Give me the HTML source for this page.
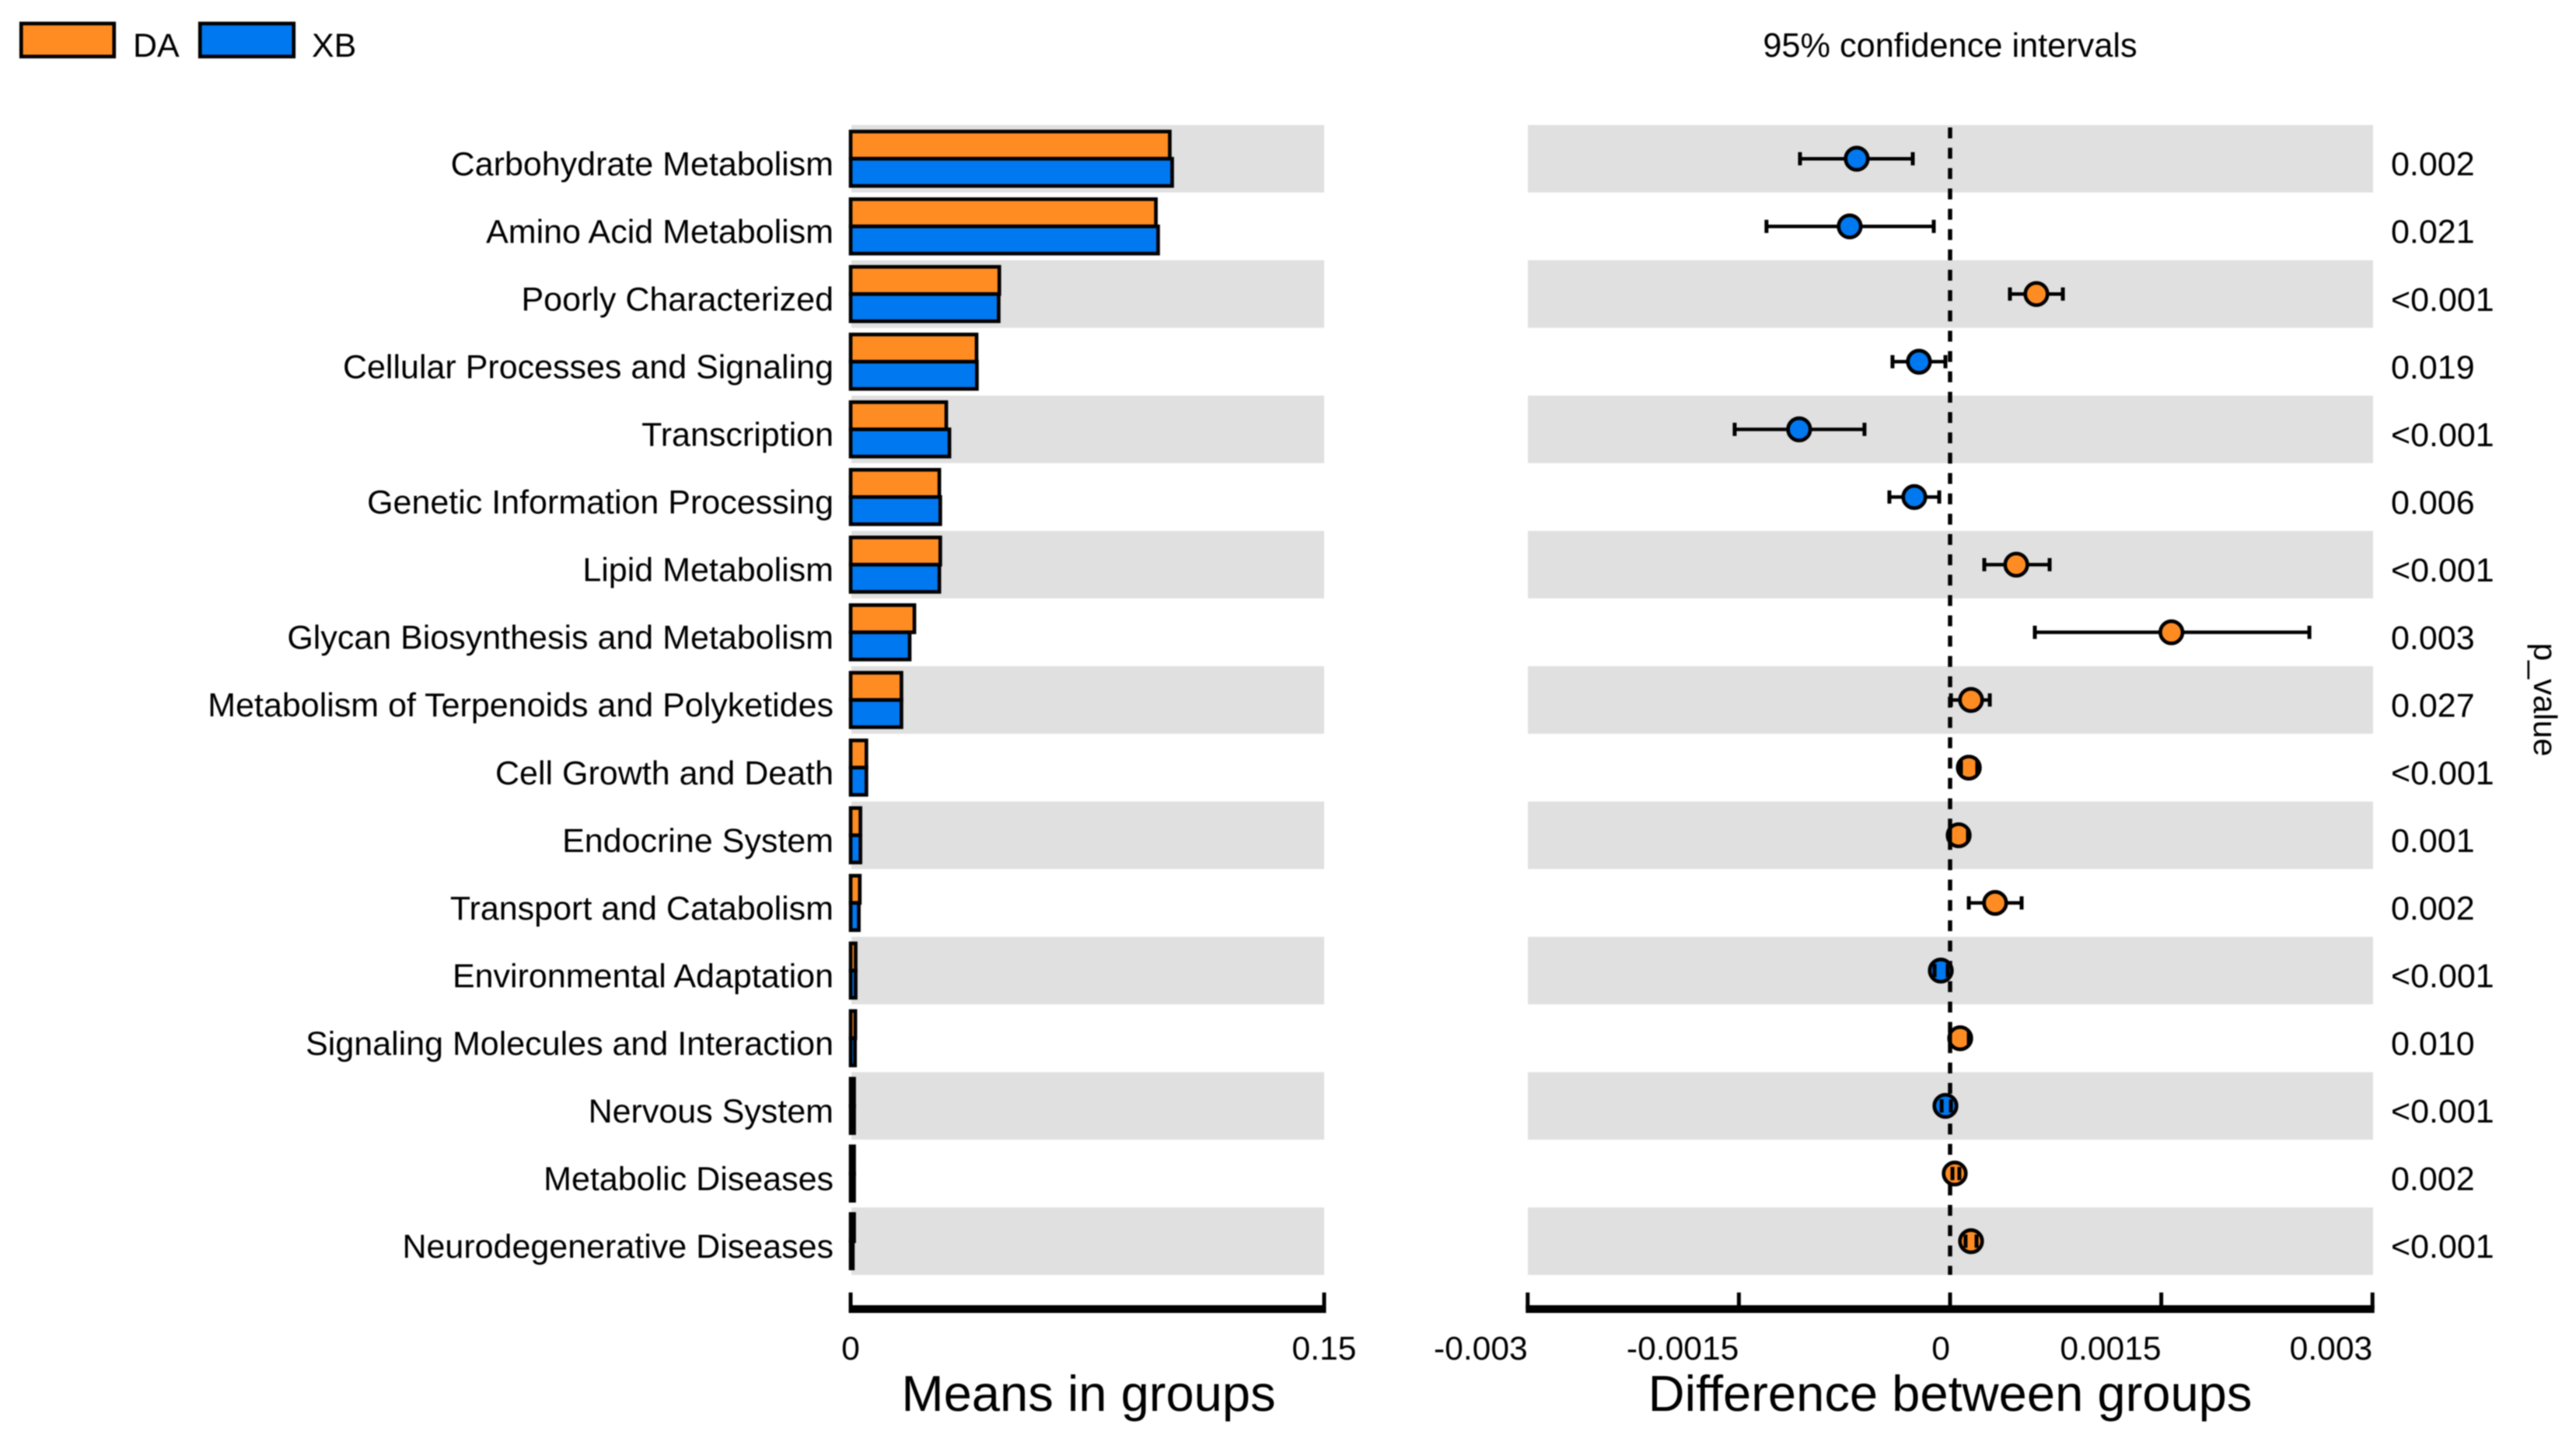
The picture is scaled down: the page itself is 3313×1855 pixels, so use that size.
<!DOCTYPE html>
<html lang="en">
<head>
<meta charset="utf-8">
<title>Extended error bar plot: DA vs XB</title>
<style>
html,body{margin:0;padding:0;background:#fff;width:3313px;height:1855px;overflow:hidden}
svg{display:block;filter:blur(0.8px)}
text{font-family:"Liberation Sans",Arial,sans-serif;fill:#000}
</style>
</head>
<body>
<svg id="chart" xmlns="http://www.w3.org/2000/svg" width="3313" height="1855" viewBox="0 0 3313 1855">
  <g>
    <rect x="27.25" y="30.25" width="119.5" height="42.5" fill="#FF8C23" stroke="#000" stroke-width="4.7"/>
    <text x="171" y="73" font-size="43">DA</text>
    <rect x="257.25" y="30.25" width="120.5" height="42.5" fill="#0078F0" stroke="#000" stroke-width="4.7"/>
    <text x="401" y="73" font-size="43">XB</text>
  </g>
  <text x="2508" y="73" font-size="43.3" text-anchor="middle">95% confidence intervals</text>
  <g id="bands"></g>
  <g id="labels"></g>
  <g id="bars"></g>
  <line x1="2508" y1="164" x2="2508" y2="1640" stroke="#000" stroke-width="5.5" stroke-dasharray="14 12.15"/>
  <g id="points"></g>
  <g id="pvals"></g>
  <g id="axisLeft"></g>
  <g id="axisRight"></g>
  <text x="1400" y="1815" font-size="65.1" text-anchor="middle">Means in groups</text>
  <text x="2508" y="1815" font-size="65.1" text-anchor="middle">Difference between groups</text>
  <text transform="translate(3259 827) rotate(90)" font-size="41.7">p_value</text>
</svg>
<script>
var categories = ["Carbohydrate Metabolism","Amino Acid Metabolism","Poorly Characterized","Cellular Processes and Signaling","Transcription","Genetic Information Processing","Lipid Metabolism","Glycan Biosynthesis and Metabolism","Metabolism of Terpenoids and Polyketides","Cell Growth and Death","Endocrine System","Transport and Catabolism","Environmental Adaptation","Signaling Molecules and Interaction","Nervous System","Metabolic Diseases","Neurodegenerative Diseases"];
var daMeans = [0.1011,0.0967,0.0471,0.0399,0.0303,0.0281,0.0284,0.0202,0.0161,0.0050,0.0031,0.0029,0.0016,0.0015,0.0011,0.0011,0.0011];
var xbMeans = [0.10185,0.0974,0.0469,0.0400,0.0313,0.0284,0.0281,0.0187,0.0161,0.0050,0.0031,0.0026,0.0016,0.0014,0.0011,0.0011,0.0007];
var diffEstimate = [-0.000663,-0.000713,0.000613,-0.000221,-0.001072,-0.000254,0.000470,0.001572,0.000149,0.000133,0.000061,0.000320,-0.000066,0.000072,-0.000033,0.000033,0.000149];
var ciLow = [-0.001066,-0.001304,0.000425,-0.000409,-0.001530,-0.000431,0.000243,0.000602,0.000006,0.000077,0.000000,0.000133,-0.000110,0.000000,-0.000060,0.000017,0.000110];
var ciHigh = [-0.000265,-0.000116,0.000801,-0.000033,-0.000608,-0.000077,0.000707,0.002552,0.000282,0.000193,0.000127,0.000508,-0.000017,0.000133,0.000006,0.000066,0.000188];
var pValues = ["0.002","0.021","<0.001","0.019","<0.001","0.006","<0.001","0.003","0.027","<0.001","0.001","0.002","<0.001","0.010","<0.001","0.002","<0.001"];
var meanTicks = [0,0.15];
var meanTickLabels = ["0","0.15"];
var diffTicks = [-0.003,-0.0015,0,0.0015,0.003];
var diffTickLabels = ["-0.003","-0.0015","0","0.0015","0.003"];

var NS = "http://www.w3.org/2000/svg";
var ORANGE = "#FF8C23", BLUE = "#0078F0", BAND = "#E0E0E0";
var ROW_FIRST_MID = 204.2, ROW_STEP = 87.03, BAND_H = 86.8;
function xMean(v){ return 1094 + v * (1703 - 1094) / 0.15; }
function xDiff(v){ return 2508 + v * (3051.5 - 1965) / 0.006; }
function rowMid(i){ return ROW_FIRST_MID + i * ROW_STEP; }
function rowTop(i){ return rowMid(i) - BAND_H / 2; }
function make(tag, parentId){
  var el = document.createElementNS(NS, tag);
  document.getElementById(parentId).appendChild(el);
  return el;
}
function setAll(el, o){ for (var k in o) el.setAttribute(k, o[k]); }

categories.forEach(function(cat, i){
  var y = rowMid(i);
  if (i % 2 === 0) {
    var b1 = make("rect", "bands");
    
    
    setAll(b1, {x: 1095, y: rowTop(i), width: 608, height: BAND_H, fill: BAND});
    var b2 = make("rect", "bands");
    
    
    setAll(b2, {x: 1965, y: rowTop(i), width: 1087, height: BAND_H, fill: BAND});
  }

  var lab = make("text", "labels");
  
  
  setAll(lab, {x: 1072, y: y + 21.3, "font-size": 43, "text-anchor": "end"});
  lab.textContent = cat;

  var da = make("rect", "bars");
  
  
  setAll(da, {x: xMean(0), y: y - 35, width: xMean(daMeans[i]) - xMean(0), height: 35, fill: ORANGE, stroke: "#000", "stroke-width": 4.7});

  var xb = make("rect", "bars");
  
  
  setAll(xb, {x: xMean(0), y: y, width: xMean(xbMeans[i]) - xMean(0), height: 35, fill: BLUE, stroke: "#000", "stroke-width": 4.7});

  var ci = make("line", "points");
  
  
  setAll(ci, {x1: xDiff(ciLow[i]), x2: xDiff(ciHigh[i]), y1: y, y2: y, stroke: "#000", "stroke-width": 4.5});

  var dot = make("circle", "points");
  
  
  setAll(dot, {cx: xDiff(diffEstimate[i]), cy: y, r: 14.3, fill: diffEstimate[i] > 0 ? ORANGE : BLUE, stroke: "#000", "stroke-width": 4.7});

  var capL = make("line", "points");
  
  
  setAll(capL, {x1: xDiff(ciLow[i]), x2: xDiff(ciLow[i]), y1: y - 8.5, y2: y + 8.5, stroke: "#000", "stroke-width": 5});

  var capH = make("line", "points");
  
  
  setAll(capH, {x1: xDiff(ciHigh[i]), x2: xDiff(ciHigh[i]), y1: y - 8.5, y2: y + 8.5, stroke: "#000", "stroke-width": 5});

  var pv = make("text", "pvals");
  
  
  setAll(pv, {x: 3075, y: y + 21.5, "font-size": 43});
  pv.textContent = pValues[i];
});

function drawAxis(parentId, ticks, labels, scale, anchor){
  var base = make("line", parentId);
  
  
  setAll(base, {x1: scale(ticks[0]) - 2.5, x2: scale(ticks[ticks.length - 1]) + 2.5, y1: 1684, y2: 1684, stroke: "#000", "stroke-width": 10});
  ticks.forEach(function(t, i){
    var tk = make("line", parentId);
    
    
    setAll(tk, {x1: scale(t), x2: scale(t), y1: 1662.7, y2: 1684, stroke: "#000", "stroke-width": 5});
    var tl = make("text", parentId);
    
    
    setAll(tl, {x: scale(t), y: 1749, "font-size": 42.6, "text-anchor": anchor});
    tl.textContent = labels[i];
  });
}
drawAxis("axisLeft", meanTicks, meanTickLabels, xMean, "middle");
drawAxis("axisRight", diffTicks, diffTickLabels, xDiff, "end");
</script>
</body>
</html>
